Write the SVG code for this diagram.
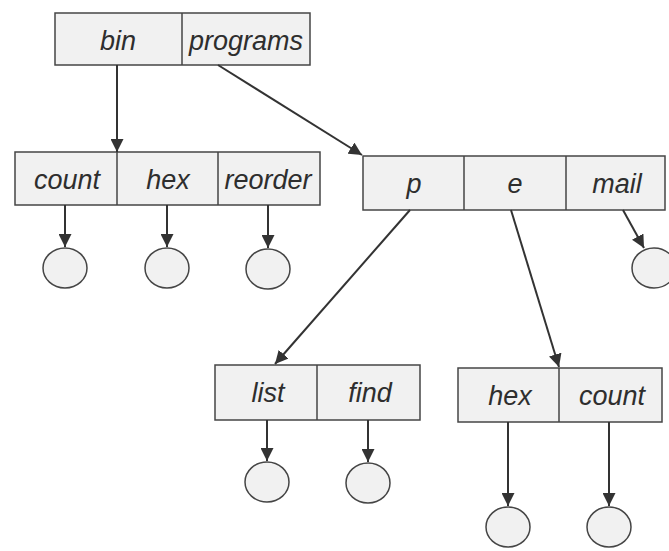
<svg xmlns="http://www.w3.org/2000/svg" width="669" height="551" viewBox="0 0 669 551">
  <style>
    .cell { fill: #f1f1f1; stroke: #454545; stroke-width: 1.5; }
    .div { stroke: #454545; stroke-width: 1.5; }
    .lbl { font-family: "Liberation Sans", Arial, sans-serif; font-style: italic; font-size: 27px; fill: #2e2e2e; text-anchor: middle; }
    .leaf { fill: #f1f1f1; stroke: #454545; stroke-width: 1.5; }
    .edge { stroke: #333; stroke-width: 2; fill: none; marker-end: url(#head); }
  </style>
  <defs>
    <marker id="head" viewBox="0 0 10 10" refX="10" refY="5" markerWidth="6.5" markerHeight="6.5" markerUnits="strokeWidth" orient="auto">
      <path d="M0,0 L10,5 L0,10 Z" fill="#333"/>
    </marker>
  </defs>
  <rect width="669" height="551" fill="#ffffff"/>

  <!-- root directory -->
  <g id="root">
    <rect class="cell" x="55" y="13" width="255" height="52"/>
    <line class="div" x1="182" y1="13" x2="182" y2="65"/>
    <text class="lbl" x="118" y="50">bin</text>
    <text class="lbl" x="246" y="50">programs</text>
  </g>

  <!-- bin directory -->
  <g id="bin">
    <rect class="cell" x="15" y="152" width="305" height="53"/>
    <line class="div" x1="117" y1="152" x2="117" y2="205"/>
    <line class="div" x1="218" y1="152" x2="218" y2="205"/>
    <text class="lbl" x="67" y="189">count</text>
    <text class="lbl" x="168" y="189">hex</text>
    <text class="lbl" x="268" y="189">reorder</text>
  </g>

  <!-- programs directory -->
  <g id="programs">
    <rect class="cell" x="363" y="156" width="302" height="54"/>
    <line class="div" x1="464" y1="156" x2="464" y2="210"/>
    <line class="div" x1="566" y1="156" x2="566" y2="210"/>
    <text class="lbl" x="414" y="193">p</text>
    <text class="lbl" x="515" y="193">e</text>
    <text class="lbl" x="617" y="193">mail</text>
  </g>

  <!-- p directory -->
  <g id="dir-p">
    <rect class="cell" x="215" y="365" width="205" height="55"/>
    <line class="div" x1="317" y1="365" x2="317" y2="420"/>
    <text class="lbl" x="268" y="402">list</text>
    <text class="lbl" x="370" y="402">find</text>
  </g>

  <!-- e directory -->
  <g id="dir-e">
    <rect class="cell" x="458" y="368" width="204" height="54"/>
    <line class="div" x1="559" y1="368" x2="559" y2="422"/>
    <text class="lbl" x="510" y="405">hex</text>
    <text class="lbl" x="612" y="405">count</text>
  </g>

  <!-- files -->
  <g id="file-bin-count"><ellipse class="leaf" cx="65" cy="268" rx="22" ry="20"/></g>
  <g id="file-bin-hex"><ellipse class="leaf" cx="167" cy="268" rx="22" ry="20"/></g>
  <g id="file-bin-reorder"><ellipse class="leaf" cx="268" cy="269" rx="22" ry="20"/></g>
  <g id="file-mail"><ellipse class="leaf" cx="654" cy="268" rx="22" ry="20"/></g>
  <g id="file-list"><ellipse class="leaf" cx="267" cy="482" rx="22" ry="20"/></g>
  <g id="file-find"><ellipse class="leaf" cx="368" cy="483" rx="22" ry="20"/></g>
  <g id="file-e-hex"><ellipse class="leaf" cx="508" cy="527" rx="22" ry="20"/></g>
  <g id="file-e-count"><ellipse class="leaf" cx="609" cy="527" rx="22" ry="20"/></g>

  <!-- connectors -->
  <g id="connectors">
    <line class="edge" x1="117" y1="65" x2="117" y2="152"/>
    <line class="edge" x1="218" y1="65" x2="362" y2="155"/>
    <line class="edge" x1="65" y1="205" x2="65" y2="247"/>
    <line class="edge" x1="167" y1="205" x2="167" y2="247"/>
    <line class="edge" x1="268" y1="205" x2="268" y2="248"/>
    <line class="edge" x1="410" y1="210" x2="275" y2="364"/>
    <line class="edge" x1="511" y1="210" x2="559" y2="367"/>
    <line class="edge" x1="623" y1="210" x2="644" y2="248"/>
    <line class="edge" x1="267" y1="420" x2="267" y2="461"/>
    <line class="edge" x1="368" y1="420" x2="368" y2="462"/>
    <line class="edge" x1="508" y1="422" x2="508" y2="506"/>
    <line class="edge" x1="609" y1="422" x2="609" y2="506"/>
  </g>
</svg>
